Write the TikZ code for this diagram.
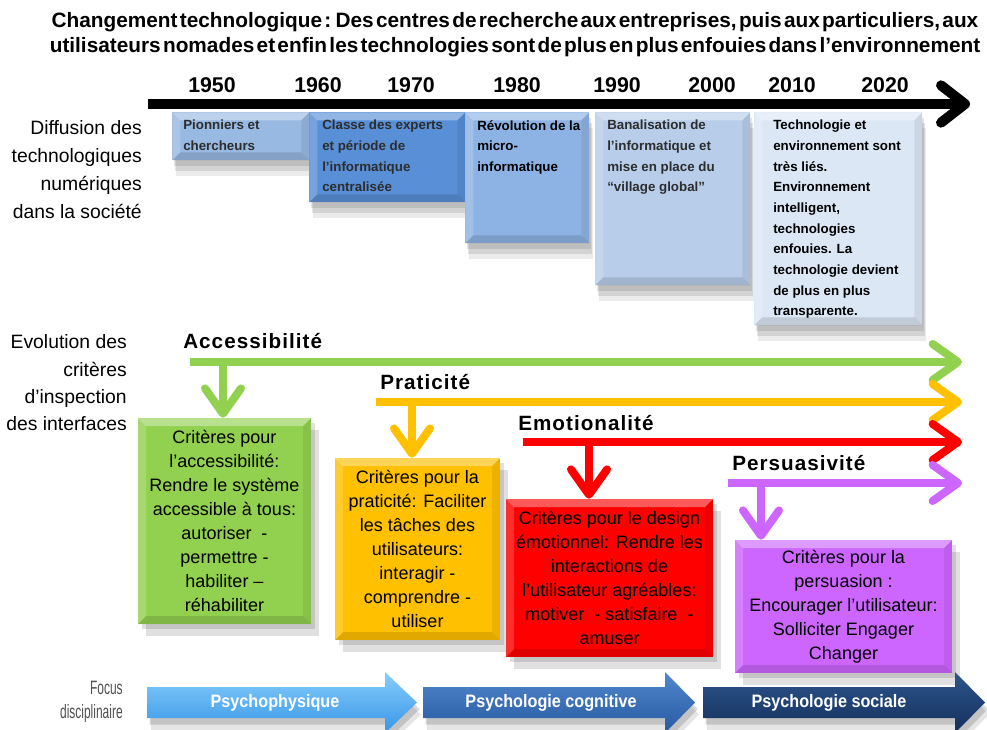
\documentclass[tikz,border=0pt]{standalone}
\usepackage{fontspec}
\setmainfont{Liberation Sans}
\newfontfamily\titlefont[WordSpace=0.4]{Liberation Sans}
\newfontfamily\widefont[LetterSpace=5]{Liberation Sans}
\newfontfamily\condfont[FakeStretch=0.62]{Liberation Sans}
\newfontfamily\narrowfont[FakeStretch=0.9]{Liberation Sans}
\usepackage{tikz}
\usetikzlibrary{arrows.meta, positioning, calc, shadows}
\usepackage{xcolor}
\definecolor{accgreen}{RGB}{146,208,80}
\definecolor{praorange}{RGB}{255,192,0}
\definecolor{emored}{RGB}{255,0,0}
\definecolor{perviolet}{RGB}{204,102,255}
\definecolor{tlA}{RGB}{152,185,226}
\definecolor{tlB}{RGB}{88,143,214}
\definecolor{tlC}{RGB}{141,179,228}
\definecolor{tlD}{RGB}{183,205,234}
\definecolor{tlE}{RGB}{220,231,245}
\definecolor{tltext}{RGB}{45,45,45}
\definecolor{psyAtop}{RGB}{135,205,252}
\definecolor{psyAbot}{RGB}{55,150,230}
\definecolor{psyBtop}{RGB}{80,135,205}
\definecolor{psyBbot}{RGB}{40,90,160}
\definecolor{psyCtop}{RGB}{45,85,140}
\definecolor{psyCbot}{RGB}{20,48,92}
\definecolor{muted}{RGB}{80,80,80}

\newdimen\px \px=0.75pt

\tikzset{
  bevel/.style={path picture={
    \coordinate (bnw) at (path picture bounding box.north west);
    \coordinate (bse) at (path picture bounding box.south east);
    \fill[white, opacity=.35] (bnw) -- (bnw -| bse) -- ([shift={(-6pt,-6pt)}]bnw -| bse) -- ([shift={(6pt,-6pt)}]bnw) -- cycle;
    \fill[black, opacity=.12] (bse) -- (bse -| bnw) -- ([shift={(6pt,6pt)}]bse -| bnw) -- ([shift={(-6pt,6pt)}]bse) -- cycle;
    \fill[white, opacity=.18] (bnw) -- (bnw |- bse) -- ([shift={(6pt,6pt)}]bnw |- bse) -- ([shift={(6pt,-6pt)}]bnw) -- cycle;
    \fill[black, opacity=.07] (bse) -- (bse |- bnw) -- ([shift={(-6pt,-6pt)}]bse |- bnw) -- ([shift={(-6pt,6pt)}]bse) -- cycle;
  }},
  softshadow/.style={
    drop shadow={shadow xshift=1pt, shadow yshift=-4pt, opacity=.10, fill=black},
    drop shadow={shadow xshift=2pt, shadow yshift=-8pt, opacity=.10, fill=black},
    drop shadow={shadow xshift=3pt, shadow yshift=-12pt, opacity=.08, fill=black}},
  tbox/.style={anchor=north west, inner sep=0, bevel, softshadow},
  ttext/.style={anchor=north west, inner sep=0, align=left, text=tltext, font=\bfseries\fontsize{10}{15.5}\selectfont},
  cbox/.style={inner sep=0, align=center, bevel, font=\fontsize{13.5}{18}\selectfont,
    drop shadow={shadow xshift=3pt, shadow yshift=-4pt, opacity=.12, fill=black},
    drop shadow={shadow xshift=6pt, shadow yshift=-9pt, opacity=.12, fill=black}},
  clabel/.style={anchor=west, inner sep=0, font=\widefont\bfseries\fontsize{15.5}{18}\selectfont},
  cline/.style={line width=6pt, -{Straight Barb[round, length=19pt, width=27pt]}},
  side/.style={anchor=east, inner sep=0, align=right, font=\fontsize{14.5}{21}\selectfont},
  year/.style={inner sep=0, font=\bfseries\fontsize{16}{18}\selectfont},
  psyarrow/.style={drop shadow={shadow xshift=2pt, shadow yshift=-5pt, opacity=.15, fill=black},
    drop shadow={shadow xshift=3pt, shadow yshift=-9pt, opacity=.1, fill=black}},
  psytext/.style={inner sep=0, text=white, font=\narrowfont\bfseries\fontsize{13.5}{16}\selectfont}
}

\begin{document}
\begin{tikzpicture}[x=0.75pt, y=-0.75pt]
  \useasboundingbox (0,0) rectangle (987,729);

  % title and time axis
  \node[align=center, inner sep=0, font=\titlefont\bfseries\fontsize{15.6}{18.75}\selectfont] (title) at (515,35)
    {Changement technologique : Des centres de recherche aux entreprises, puis aux particuliers, aux\\
     utilisateurs nomades et enfin les technologies sont de plus en plus enfouies dans l’environnement};

  \node[year] (y1950) at (212,85) {1950};
  \node[year] (y1960) at (318,85) {1960};
  \node[year] (y1970) at (411,85) {1970};
  \node[year] (y1980) at (517,85) {1980};
  \node[year] (y1990) at (617,85) {1990};
  \node[year] (y2000) at (712,85) {2000};
  \node[year] (y2010) at (792,85) {2010};
  \node[year] (y2020) at (885,85) {2020};

  \coordinate (tlstart) at (148,104);
  \coordinate (tlend) at (970,104);
  \draw[line width=7.5pt, -{Straight Barb[round, length=18pt, width=28pt]}] (tlstart) -- (tlend);

  % diffusion periods
  \node[tbox, fill=tlA, minimum width=137\px, minimum height=48\px] (pion) at (172,112) {};
  \node[ttext] (piontxt) at ([shift={(11\px,-8\px)}]pion.north west) {Pionniers et\\chercheurs};
  \node[tbox, fill=tlB, minimum width=156\px, minimum height=90\px] (expert) at (309,112) {};
  \node[ttext] (experttxt) at ([shift={(13\px,-8\px)}]expert.north west) {Classe des experts\\et période de\\l’informatique\\centralisée};
  \node[tbox, fill=tlC, minimum width=124\px, minimum height=131\px] (micro) at (465,112) {};
  \node[ttext, text=black] (microtxt) at ([shift={(12\px,-8\px)}]micro.north west) {Révolution de la\\micro-\\informatique};
  \node[tbox, fill=tlD, minimum width=155\px, minimum height=173\px] (banal) at (595,112) {};
  \node[ttext] (banaltxt) at ([shift={(12\px,-8\px)}]banal.north west) {Banalisation de\\l’informatique et\\mise en place du\\“village global”};
  \node[tbox, fill=tlE, minimum width=168\px, minimum height=213\px] (envir) at (754,112) {};
  \node[ttext, text=black] (envirtxt) at ([shift={(19\px,-8\px)}]envir.north west) {Technologie et\\environnement sont\\très liés.\\Environnement\\intelligent,\\technologies\\enfouies. La\\technologie devient\\de plus en plus\\transparente.};

  % row labels
  \node[side] (diffusion) at (142,170) {Diffusion des\\technologiques\\numériques\\dans la société};
  \node[side, font=\fontsize{14.5}{20.5}\selectfont] (evolution) at (127,383) {Evolution des\\critères\\d’inspection\\des interfaces};
  \node[side, text=muted, font=\condfont\fontsize{14.5}{18}\selectfont] (focus) at (123,702) {Focus\\disciplinaire};

  % criteria boxes
  \node[cbox, fill=accgreen, minimum width=173\px, minimum height=206\px] (accbox) at (224.5,521)
    {Critères pour\\l’accessibilité:\\Rendre le système\\accessible à tous:\\autoriser \ -\\permettre -\\habiliter –\\réhabiliter};
  \node[cbox, fill=praorange, minimum width=165\px, minimum height=182\px] (prabox) at (417.5,549)
    {Critères pour la\\praticité: Faciliter\\les tâches des\\utilisateurs:\\interagir -\\comprendre -\\utiliser};
  \node[cbox, fill=emored, minimum width=207\px, minimum height=158\px] (emobox) at (609.5,578)
    {Critères pour le design\\émotionnel: Rendre les\\interactions de\\l'utilisateur agréables:\\motiver \ - satisfaire \ -\\amuser};
  \node[cbox, fill=perviolet, minimum width=217\px, minimum height=133\px] (perbox) at (843.5,606.5)
    {Critères pour la\\persuasion :\\Encourager l’utilisateur:\\Solliciter Engager\\Changer};

  % criteria arrows
  \node[clabel] (acclabel) at (183,341) {Accessibilité};
  \coordinate (accS) at (190,362);
  \coordinate (accE) at (962,362);
  \coordinate (accD) at (223,362);
  \draw[cline, accgreen, -] (accS) -- (accD);
  \draw[cline, accgreen] (accD) -- (accE);
  \draw[cline, accgreen] (accD) -- (accD |- accbox.north);

  \node[clabel] (pralabel) at (380,382) {Praticité};
  \coordinate (praS) at (376,402);
  \coordinate (praE) at (962,402);
  \coordinate (praD) at (412,402);
  \draw[cline, praorange, -] (praS) -- (praD);
  \draw[cline, praorange] (praD) -- (praE);
  \draw[cline, praorange] (praD) -- (praD |- prabox.north);

  \node[clabel] (emolabel) at (518,423) {Emotionalité};
  \coordinate (emoS) at (523,442);
  \coordinate (emoE) at (962,442);
  \coordinate (emoD) at (589,442);
  \draw[cline, emored, -] (emoS) -- (emoD);
  \draw[cline, emored] (emoD) -- (emoE);
  \draw[cline, emored] (emoD) -- (emoD |- emobox.north);

  \node[clabel] (perlabel) at (732,463) {Persuasivité};
  \coordinate (perS) at (728,483);
  \coordinate (perE) at (962,483);
  \coordinate (perD) at (761,483);
  \draw[cline, perviolet, -] (perS) -- (perD);
  \draw[cline, perviolet] (perD) -- (perE);
  \draw[cline, perviolet] (perD) -- (perD |- perbox.north);

  % disciplinary focus
  \shade[psyarrow, top color=psyAtop, bottom color=psyAbot] (147,687) -- (385,687) -- (385,672) -- (417,702.5) -- (385,733) -- (385,718) -- (147,718) -- cycle;
  \node[psytext] (psyA) at (275,703) {Psychophysique};
  \shade[psyarrow, top color=psyBtop, bottom color=psyBbot] (423,687) -- (665,687) -- (665,672) -- (695,702.5) -- (665,733) -- (665,718) -- (423,718) -- cycle;
  \node[psytext] (psyB) at (551,703) {Psychologie cognitive};
  \shade[psyarrow, top color=psyCtop, bottom color=psyCbot] (703,687) -- (955,687) -- (955,672) -- (985,702.5) -- (955,733) -- (955,718) -- (703,718) -- cycle;
  \node[psytext] (psyC) at (829,703) {Psychologie sociale};
\end{tikzpicture}
\end{document}
